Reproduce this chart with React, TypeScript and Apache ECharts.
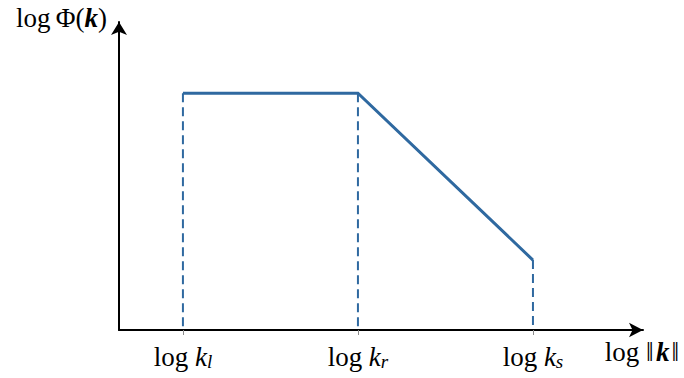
import React, { useEffect, useRef } from "react";
import * as echarts from "echarts";

// Data (axis units: 0..100 on both axes)
const breakNames = ["l", "r", "s"];
const breakX = [12.2, 45.6, 79.0]; // log k_l, log k_r, log k_s
const spectrumY = [76.9, 76.9, 22.7]; // log Φ at each break
const xMax = 100;
const yMax = 100;

const BLUE = "#2f69a0";
const FONT = "Liberation Serif";

export default function App() {
  const ref = useRef<HTMLDivElement>(null);
  useEffect(() => {
    if (!ref.current) return;
    const chart = echarts.init(ref.current, undefined, { renderer: "svg" });

    const makeRich = (lh: number) => ({
      n: { fontFamily: FONT, fontSize: 27, lineHeight: lh, color: "#000" },
      i: { fontFamily: FONT, fontSize: 27, lineHeight: lh, fontStyle: "italic", color: "#000" },
      b: { fontFamily: FONT, fontSize: 27, lineHeight: lh, fontStyle: "italic", fontWeight: "bold", color: "#000" },
      s: { fontFamily: FONT, fontSize: 19, lineHeight: 19, fontStyle: "italic", padding: [8, 0, 0, 0], color: "#000" },
    });
    const mainRich = makeRich(32);
    const nameRich = makeRich(28);

    const dashed = breakX.map((x, i) => ({
      type: "line",
      data: [
        [x, spectrumY[i]],
        [x, 0],
      ],
      symbol: "none",
      silent: true,
      z: 1,
      lineStyle: { color: BLUE, width: 2, type: [9, 5] },
    }));

    chart.setOption({
      animation: false,
      grid: { left: 119, right: 41, top: 22, bottom: 48, outerBoundsMode: "none" },
      xAxis: {
        type: "value",
        min: 0,
        max: xMax,
        name: "{n|log ‖\u200a}{b|k}{n|\u200a‖}",
        nameLocation: "end",
        nameGap: -1,
        nameTextStyle: {
          align: "center",
          verticalAlign: "top",
          padding: [8, 0, 0, 0],
          rich: nameRich,
        },
        axisLine: {
          show: true,
          lineStyle: { color: "#000", width: 2 },
          symbol: ["none", "arrow"],
          symbolSize: [11, 14],
        },
        axisTick: {
          show: true,
          customValues: breakX,
          length: 5,
          lineStyle: { color: "#8a8a8a", width: 1 },
        },
        axisLabel: {
          show: true,
          customValues: breakX,
          margin: 11,
          formatter: (v: number) => {
            const idx = breakX.findIndex((b) => Math.abs(b - v) < 1e-6);
            return idx < 0 ? "" : `{n|log }{i|k}{s|${breakNames[idx]}}`;
          },
          rich: mainRich,
        },
        splitLine: { show: false },
      },
      yAxis: {
        type: "value",
        min: 0,
        max: yMax,
        name: "{n|log\u2009Φ(}{b|k}{n|)}",
        nameLocation: "end",
        nameGap: -10,
        nameTextStyle: {
          align: "right",
          verticalAlign: "bottom",
          padding: [0, 12, 0, 0],
          rich: nameRich,
        },
        axisLine: {
          show: true,
          lineStyle: { color: "#000", width: 2 },
          symbol: ["none", "arrow"],
          symbolSize: [12, 13],
        },
        axisTick: { show: false },
        axisLabel: { show: false },
        splitLine: { show: false },
      },
      series: [
        {
          type: "line",
          data: breakX.map((x, i) => [x, spectrumY[i]]),
          symbol: "none",
          silent: true,
          z: 3,
          lineStyle: { color: BLUE, width: 3, join: "miter" },
        },
        ...dashed,
      ],
    });
    return () => chart.dispose();
  }, []);
  return (
    <div
      ref={ref}
      style={{ position: "absolute", left: 0, top: 0, width: 684, height: 378, background: "#fff" }}
    />
  );
}
